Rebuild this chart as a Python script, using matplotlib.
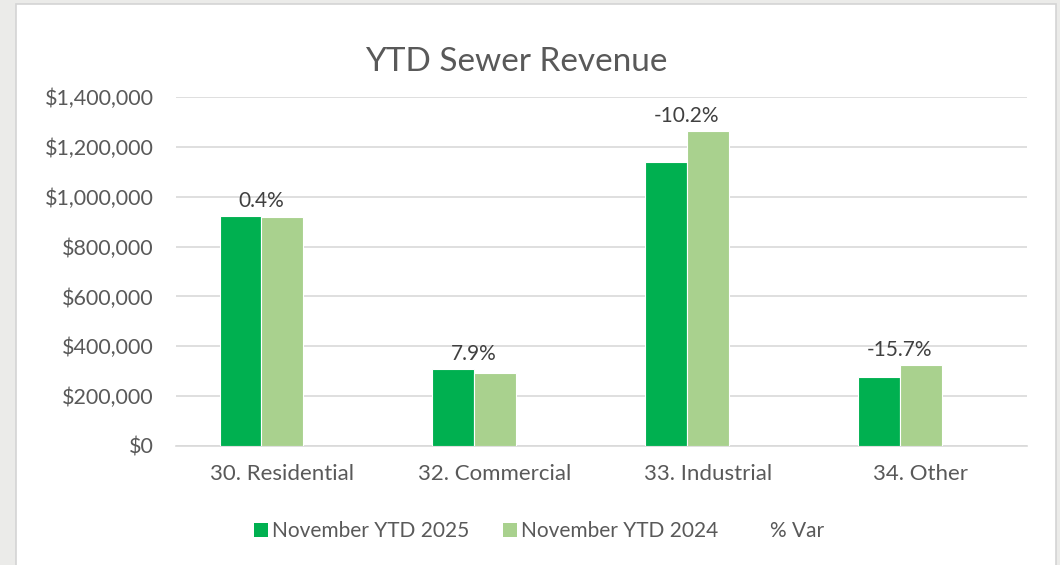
import numpy as np
import matplotlib.pyplot as plt
from matplotlib.patches import Patch, Rectangle
from matplotlib.lines import Line2D
from matplotlib.ticker import FuncFormatter

# values
categories = ["30. Residential", "32. Commercial", "33. Industrial", "34. Other"]
ytd_2025 = [922000, 308000, 1138000, 277000]
ytd_2024 = [919000, 292000, 1265000, 324000]
pct_var = ["0.4%", "7.9%", "-10.2%", "-15.7%"]

plt.rcParams['font.family'] = ['Lato', 'DejaVu Sans']
txt = '#595959'

fig = plt.figure(figsize=(10.6, 5.65), dpi=100, facecolor='#ebebe9')
# white chart panel
fig.patches.append(Rectangle((16 / 1060, -0.01), 1040 / 1060, 1 - 4 / 565 + 0.01,
                             transform=fig.transFigure, facecolor='white',
                             edgecolor='#d4d4d4', linewidth=1.2, zorder=-5))

ax = fig.add_axes([176 / 1060, 1 - 446 / 565, 851 / 1060, 349 / 565])
ax.set_facecolor('none')

x = np.arange(len(categories))
w = 0.197
ax.bar(x - w, ytd_2025, w, color='#00B050', edgecolor='white', linewidth=0.8, zorder=3)
ax.bar(x, ytd_2024, w, color='#A9D18E', edgecolor='white', linewidth=0.8, zorder=3)

for i, lab in enumerate(pct_var):
    top = max(ytd_2025[i], ytd_2024[i])
    ax.annotate(lab, (x[i] - w / 2, top), xytext=(0, 3.5), textcoords='offset points',
                ha='center', va='bottom', fontsize=15, color='#404040')

ax.set_xlim(-0.5, 3.5)
ax.set_ylim(0, 1400000)
ax.set_yticks(np.arange(0, 1400001, 200000))
ax.yaxis.set_major_formatter(FuncFormatter(lambda v, p: f"${v:,.0f}"))
ax.set_xticks(x)
ax.set_xticklabels(categories)
ax.tick_params(axis='y', length=0, labelsize=15.5, colors=txt, pad=16)
ax.tick_params(axis='x', length=0, labelsize=16, colors=txt, pad=13)
ax.grid(axis='y', color='#d9d9d9', linewidth=1.2, zorder=0)
for s in ['top', 'right', 'left']:
    ax.spines[s].set_visible(False)
ax.spines['bottom'].set_color('#d9d9d9')
ax.spines['bottom'].set_linewidth(1.2)

fig.text(516 / 1060, 1 - 62 / 565, "YTD Sewer Revenue", ha='center', va='center',
         fontsize=24, color=txt)

handles = [Patch(facecolor='#00B050'), Patch(facecolor='#A9D18E'),
           Line2D([], [], linestyle='none')]
fig.legend(handles, ["November YTD 2025", "November YTD 2024", "% Var"],
           loc='center', bbox_to_anchor=(539 / 1060, 1 - 531 / 565), ncol=3,
           frameon=False, fontsize=15, labelcolor=txt, handlelength=0.67,
           handleheight=0.67, handletextpad=0.2, columnspacing=1.6)

fig.savefig('out.png', dpi=100, facecolor=fig.get_facecolor())
